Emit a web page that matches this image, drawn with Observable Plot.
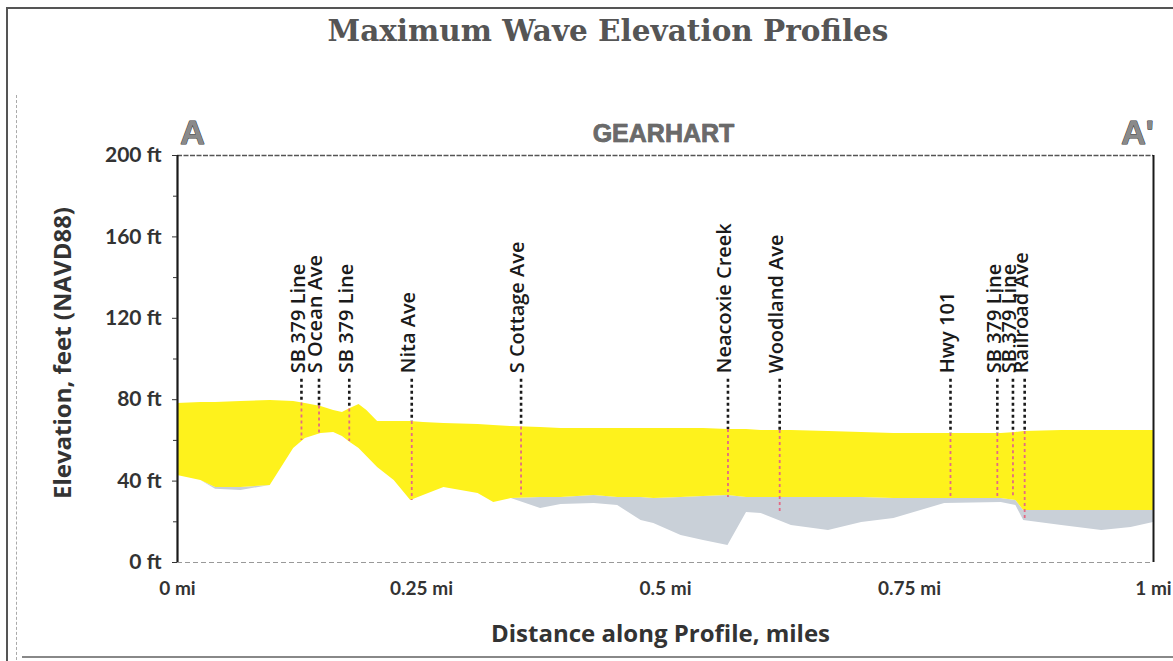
<!DOCTYPE html>
<html><head><meta charset="utf-8">
<script src="https://cdn.jsdelivr.net/npm/d3@7"></script>
<script src="https://cdn.jsdelivr.net/npm/@observablehq/plot@0.6"></script>
<style>
html,body{margin:0;padding:0;background:#fff;}
#page{position:relative;width:1173px;height:661px;overflow:hidden;background:#fff;}
#frame{position:absolute;left:6px;top:7px;width:1200px;height:700px;border:2px solid #555;box-sizing:border-box;}
#innerline{position:absolute;left:16px;top:95px;height:570px;border-left:1px dashed #aaa;}
#bottomline{position:absolute;left:22px;top:656px;width:1160px;border-top:2px solid #888;}
#title{position:absolute;left:0;top:13px;width:1216px;text-align:center;font:bold 29.5px "DejaVu Serif";color:#555;}
#chart{position:absolute;left:0;top:0;}
</style></head>
<body>
<div id="page">
  <div id="frame"></div>
  <div id="innerline"></div>
  <div id="bottomline"></div>
  <div id="title">Maximum Wave Elevation Profiles</div>
  <div id="chart"></div>
</div>
<script>
// Distance along profile (miles)
const distance = [0, 0.024, 0.039, 0.065, 0.095, 0.119, 0.131, 0.147, 0.160, 0.169, 0.177, 0.186, 0.194, 0.205, 0.222, 0.239, 0.252, 0.273, 0.308, 0.324, 0.342, 0.372, 0.393, 0.427, 0.451, 0.475, 0.488, 0.516, 0.539, 0.564, 0.583, 0.598, 0.629, 0.667, 0.701, 0.734, 0.786, 0.844, 0.859, 0.867, 0.906, 0.947, 0.977, 1.000];
// Maximum wave elevation (ft)
const waveElevation = [78.1, 78.6, 78.6, 79.1, 79.6, 79.1, 78.1, 76.7, 74.7, 73.7, 75.7, 77.6, 74.7, 69.3, 69.3, 69.3, 68.8, 68.3, 67.8, 67.3, 66.8, 66.3, 65.8, 65.8, 65.8, 65.8, 65.8, 65.8, 65.8, 65.4, 65.4, 64.9, 64.9, 64.4, 63.9, 63.4, 63.4, 63.4, 63.9, 64.4, 64.9, 64.9, 64.9, 64.9];
// Ground elevation (ft)
const groundElevation = [42.8, 40.3, 36.9, 36.9, 37.8, 56.0, 60.9, 63.4, 63.9, 61.9, 59.0, 56.0, 52.1, 46.7, 40.3, 30.5, 32.9, 36.9, 33.9, 29.5, 31.4, 31.9, 31.9, 32.9, 31.9, 31.9, 31.4, 31.9, 32.4, 32.9, 31.9, 31.9, 31.9, 31.9, 31.9, 31.4, 31.4, 31.4, 30.5, 25.6, 25.6, 25.6, 25.6, 25.6];
// Lower terrain shading (ft)
const lowElevation = [42.8, 40.3, 36.0, 35.4, 37.8, 56.0, 60.9, 63.4, 63.9, 61.9, 59.0, 56.0, 52.1, 46.7, 40.3, 30.5, 32.9, 36.9, 33.9, 29.5, 31.4, 26.5, 28.5, 29.0, 28.0, 20.6, 19.2, 13.3, 10.8, 8.4, 24.6, 24.1, 18.2, 15.7, 19.7, 21.6, 29.0, 29.5, 28.0, 20.6, 18.2, 15.7, 17.2, 19.7];

// Location markers
const markerNames = ["SB 379 Line", "S Ocean Ave", "SB 379 Line", "Nita Ave", "S Cottage Ave", "Neacoxie Creek", "Woodland Ave", "Hwy 101", "SB 379 Line", "SB 379 Line", "Railroad Ave"];
const markerDistance = [0.127, 0.145, 0.176, 0.240, 0.352, 0.564, 0.617, 0.792, 0.840, 0.856, 0.868];
const markerFoot = [60.0, 63.4, 59.5, 30.5, 33.0, 32.0, 24.0, 31.4, 32.0, 31.4, 20.6];
const markerTopFt = 90;
const markerLabelFt = 93;

// Axes
const xTicks = [0, 0.25, 0.5, 0.75, 1];
const xTickLabels = ["0 mi", "0.25 mi", "0.5 mi", "0.75 mi", "1 mi"];
const yTicks = [0, 40, 80, 120, 160, 200];
const yTickLabels = ["0 ft", "40 ft", "80 ft", "120 ft", "160 ft", "200 ft"];
const yMinorTicks = [20, 60, 100, 140, 180];
const xTitle = "Distance along Profile, miles";
const yTitle = "Elevation, feet (NAVD88)";
const sectionStart = "A", sectionEnd = "A'", sectionName = "GEARHART";

const profile = distance.map((d, i) => ({d, wave: waveElevation[i], ground: groundElevation[i], low: lowElevation[i]}));
const waveAt = d3.scaleLinear().domain(distance).range(waveElevation);
const markers = markerNames.map((name, i) => ({name, d: markerDistance[i], foot: markerFoot[i], wave: waveAt(markerDistance[i]), top: markerTopFt, base: markerLabelFt}));

const plot = Plot.plot({
  width: 1173, height: 661,
  marginTop: 155, marginBottom: 99, marginLeft: 177, marginRight: 20,
  x: {domain: [0, 1]},
  y: {domain: [0, 200]},
  style: {fontFamily: "Lato", background: "transparent", color: "#333", overflow: "visible"},
  marks: [
    Plot.areaY(profile, {x: "d", y1: "low", y2: "ground", fill: "#c9d0d8", curve: "linear"}),
    Plot.areaY(profile, {x: "d", y1: "ground", y2: "wave", fill: "#fef21c", curve: "linear"}),
    Plot.ruleX(markers, {x: "d", y1: "top", y2: "wave", stroke: "#1a1a1a", strokeWidth: 2.6, strokeDasharray: "3,3"}),
    Plot.ruleX(markers, {x: "d", y1: "wave", y2: "foot", stroke: "#e46a86", strokeWidth: 1.8, strokeDasharray: "3,3"}),
    Plot.text(markers, {x: "d", y: "base", text: "name", rotate: -90, textAnchor: "start", dx: -3, fontSize: 20, fontWeight: 600, fontFamily: "Open Sans", fill: "#1a1a1a"}),
    Plot.ruleY([200], {stroke: "#555", strokeWidth: 1.3, strokeDasharray: "5,1.5"}),
    Plot.ruleY([0], {stroke: "#999", strokeWidth: 1, strokeDasharray: "5,3"}),
    Plot.ruleX([1], {stroke: "#1a1a1a", strokeWidth: 2}),
    Plot.ruleX([0], {stroke: "#1a1a1a", strokeWidth: 2.2}),
    Plot.axisY({ticks: yTicks, tickFormat: (d) => yTickLabels[yTicks.indexOf(d)], tickSize: 5, tickPadding: 11, fontSize: 21, fontWeight: "bold", label: null}),
    Plot.axisY({ticks: yMinorTicks, tickFormat: () => "", tickSize: 4, label: null}),
    Plot.axisX({ticks: xTicks, tickFormat: (d) => xTickLabels[xTicks.indexOf(d)], tickSize: 0, tickPadding: 19, fontSize: 19, fontWeight: "bold", label: null}),
    Plot.text([xTitle], {frameAnchor: "bottom", text: (d) => d, textAnchor: "middle", lineAnchor: "middle", dx: -5, dy: 72, fontSize: 24, fontWeight: "bold", fontFamily: "Open Sans", fill: "#333"}),
    Plot.text([yTitle], {frameAnchor: "left", text: (d) => d, textAnchor: "middle", lineAnchor: "middle", rotate: -90, dx: -114, dy: -6, fontSize: 24, fontWeight: "bold", fontFamily: "Open Sans", fill: "#333"}),
    Plot.text([sectionStart], {x: 0, y: 200, text: (d) => d, dx: 15, dy: -22, fontSize: 34, fontWeight: "bold", fontFamily: "Liberation Sans", fill: "#8a8a8a", stroke: "#3a3a3a", strokeWidth: 1}),
    Plot.text([sectionEnd], {x: 1, y: 200, text: (d) => d, dx: -16, dy: -22, fontSize: 34, fontWeight: "bold", fontFamily: "Liberation Sans", fill: "#8a8a8a", stroke: "#3a3a3a", strokeWidth: 1}),
    Plot.text([sectionName], {x: 0.5, y: 200, text: (d) => d, dx: -2, dy: -22, fontSize: 25, fontWeight: "bold", fontFamily: "Liberation Sans", fill: "#6a6a6a", stroke: "#3a3a3a", strokeWidth: 0.6})
  ]
});
document.getElementById("chart").appendChild(plot);
</script>
</body></html>
